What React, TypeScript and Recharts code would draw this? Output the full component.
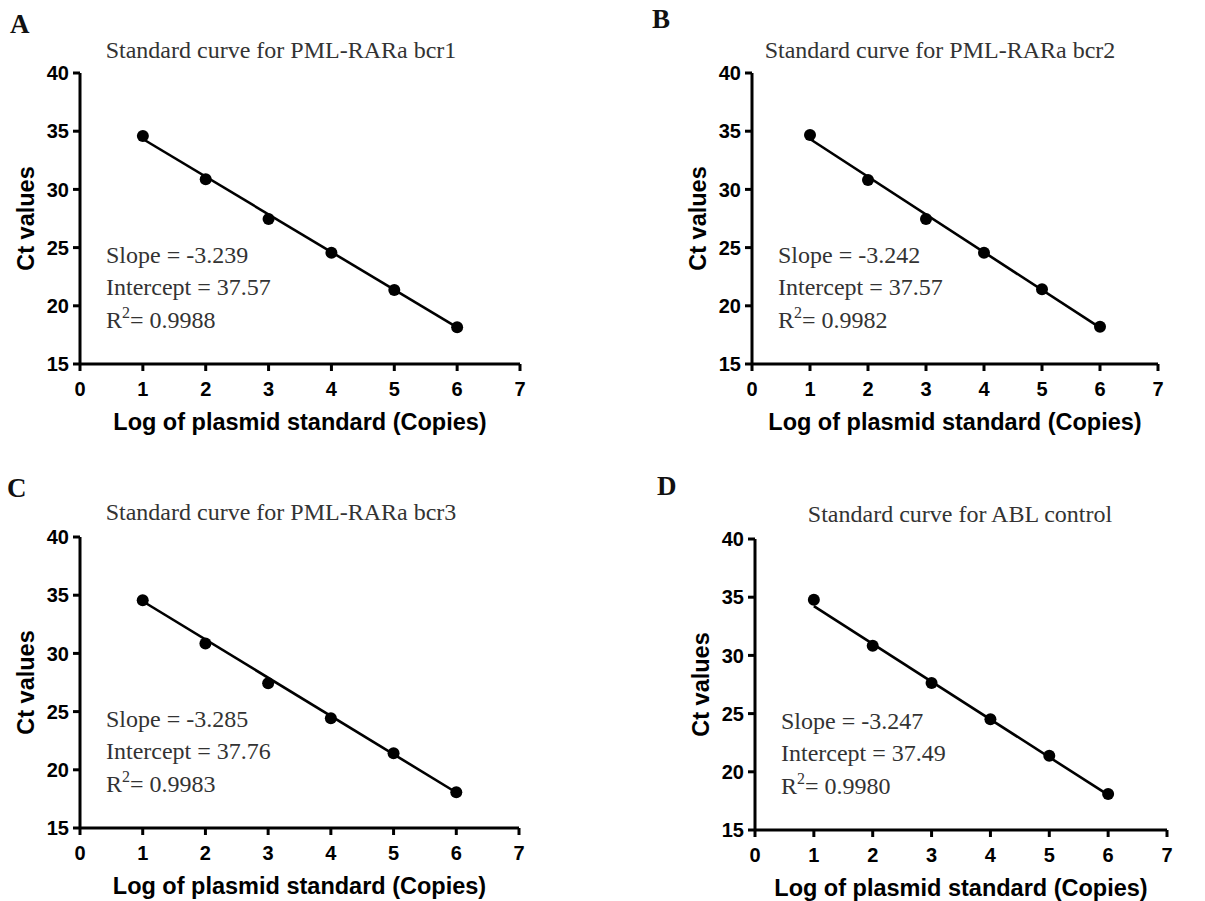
import React from 'react';
import { ScatterChart, Scatter, XAxis, YAxis, ReferenceLine } from 'recharts';

// log copies of the plasmid standard
const logCopies = [1, 2, 3, 4, 5, 6];

// Ct values
const ctBcr1 = [34.59, 30.87, 27.46, 24.56, 21.36, 18.15];
const ctBcr2 = [34.67, 30.81, 27.46, 24.56, 21.42, 18.2];
const ctBcr3 = [34.57, 30.86, 27.43, 24.42, 21.42, 18.08];
const ctAbl = [34.78, 30.83, 27.62, 24.52, 21.37, 18.1];

// fitted line ends (x = 1 and x = 6)
const fitX = [1, 6];
const fitBcr1 = [34.33, 18.14];
const fitBcr2 = [34.33, 18.12];
const fitBcr3 = [34.48, 18.05];
const fitAbl = [34.24, 18.01];

const letters = ['A', 'B', 'C', 'D'];
const titles = [
  'Standard curve for PML-RARa bcr1',
  'Standard curve for PML-RARa bcr2',
  'Standard curve for PML-RARa bcr3',
  'Standard curve for ABL control',
];
const slopes = ['-3.239', '-3.242', '-3.285', '-3.247'];
const intercepts = ['37.57', '37.57', '37.76', '37.49'];
const rSquared = ['0.9988', '0.9982', '0.9983', '0.9980'];

const xTicks = [0, 1, 2, 3, 4, 5, 6, 7];
const yTicks = [15, 20, 25, 30, 35, 40];

const SANS = '"Liberation Sans", Arial, sans-serif';
const SERIF = '"Liberation Serif", "Times New Roman", serif';

// where each plot area sits on the page, plus offsets for the letter and title
const layouts = [
  { left: 80, top: 73, w: 440, h: 291, letterDx: -70, letterDy: -40, titleCx: 201, titleDy: -15 },
  { left: 752, top: 73, w: 406, h: 291, letterDx: -100, letterDy: -45, titleCx: 188, titleDy: -15 },
  { left: 80, top: 537, w: 439, h: 291, letterDx: -73, letterDy: -40, titleCx: 201, titleDy: -17 },
  { left: 755, top: 539, w: 412, h: 291, letterDx: -98, letterDy: -44, titleCx: 205, titleDy: -17 },
];

const series = [ctBcr1, ctBcr2, ctBcr3, ctAbl];
const fits = [fitBcr1, fitBcr2, fitBcr3, fitAbl];

const PAD_L = 110;
const PAD_T = 80;
const PAD_R = 40;
const PAD_B = 75;
const Y_W = 80;
const X_H = 70;

const TICK_FONT = { fontFamily: SANS, fontSize: 20, fontWeight: 700, fill: '#000' };

const Dot = (p: any) => <circle cx={p.cx} cy={p.cy} r={6} fill="#000" />;

const XTick = (p: any) => (
  <text x={p.x} y={p.y} dy="0.72em" textAnchor="middle" style={TICK_FONT}>
    {p.payload.value}
  </text>
);

const YTick = (p: any) => (
  <text x={p.x} y={p.y} dy="0.36em" textAnchor="end" style={TICK_FONT}>
    {p.payload.value}
  </text>
);

function Panel({ idx }: { idx: number }) {
  const lay = layouts[idx];
  const width = PAD_L + lay.w + PAD_R;
  const height = PAD_T + lay.h + PAD_B;
  const points = logCopies.map((x, i) => ({ x, y: series[idx][i] }));
  const fit = fitX.map((x, i) => ({ x, y: fits[idx][i] }));
  const tx = PAD_L + 26;
  const statStyle = { fontFamily: SERIF, fontSize: 24, fill: '#333' };

  return (
    <div style={{ position: 'absolute', left: lay.left - PAD_L, top: lay.top - PAD_T, width, height }}>
      <ScatterChart
        width={width}
        height={height}
        margin={{ top: PAD_T, left: PAD_L - Y_W, right: PAD_R, bottom: PAD_B - X_H }}
      >
        <XAxis
          type="number"
          dataKey="x"
          domain={[0, 7]}
          ticks={xTicks}
          interval={0}
          height={X_H}
          axisLine={{ stroke: '#000', strokeWidth: 3 }}
          tickLine={{ stroke: '#000', strokeWidth: 3 }}
          tickSize={7}
          tickMargin={11}
          tick={XTick}
          label={{
            value: 'Log of plasmid standard (Copies)',
            position: 'insideBottom',
            offset: 4,
            style: { fill: '#000', fontSize: 23.5, fontWeight: 'bold', fontFamily: SANS },
          }}
        />
        <YAxis
          type="number"
          dataKey="y"
          domain={[15, 40]}
          ticks={yTicks}
          interval={0}
          width={Y_W}
          axisLine={{ stroke: '#000', strokeWidth: 3 }}
          tickLine={{ stroke: '#000', strokeWidth: 3 }}
          tickSize={7}
          tickMargin={4}
          tick={YTick}
          label={{
            value: 'Ct values',
            angle: -90,
            position: 'insideLeft',
            offset: 26,
            style: { textAnchor: 'middle', fill: '#000', fontSize: 23.5, fontWeight: 'bold', fontFamily: SANS },
          }}
        />
        <ReferenceLine segment={fit} stroke="#000" strokeWidth={2.6} ifOverflow="visible" />
        <Scatter data={points} shape={Dot} isAnimationActive={false} />
      </ScatterChart>
      <svg
        width={width}
        height={height}
        style={{ position: 'absolute', left: 0, top: 0, pointerEvents: 'none', overflow: 'visible' }}
      >
        <text
          x={PAD_L + lay.letterDx}
          y={PAD_T + lay.letterDy}
          style={{ fontFamily: SERIF, fontSize: 27, fontWeight: 'bold', fill: '#111' }}
        >
          {letters[idx]}
        </text>
        <text
          x={PAD_L + lay.titleCx}
          y={PAD_T + lay.titleDy}
          textAnchor="middle"
          style={{ fontFamily: SERIF, fontSize: 24, fill: '#333' }}
        >
          {titles[idx]}
        </text>
        <text x={tx} y={PAD_T + 190} style={statStyle}>
          {'Slope = ' + slopes[idx]}
        </text>
        <text x={tx} y={PAD_T + 222} style={statStyle}>
          {'Intercept = ' + intercepts[idx]}
        </text>
        <text x={tx} y={PAD_T + 255} style={statStyle}>
          R<tspan dy={-10} fontSize={16}>2</tspan>
          <tspan dy={10}>{'= ' + rSquared[idx]}</tspan>
        </text>
      </svg>
    </div>
  );
}

export default function App() {
  return (
    <div
      style={{
        position: 'absolute',
        left: 0,
        top: 0,
        width: 1205,
        height: 901,
        overflow: 'hidden',
        background: '#fff',
      }}
    >
      {letters.map((_, i) => (
        <Panel key={i} idx={i} />
      ))}
    </div>
  );
}
